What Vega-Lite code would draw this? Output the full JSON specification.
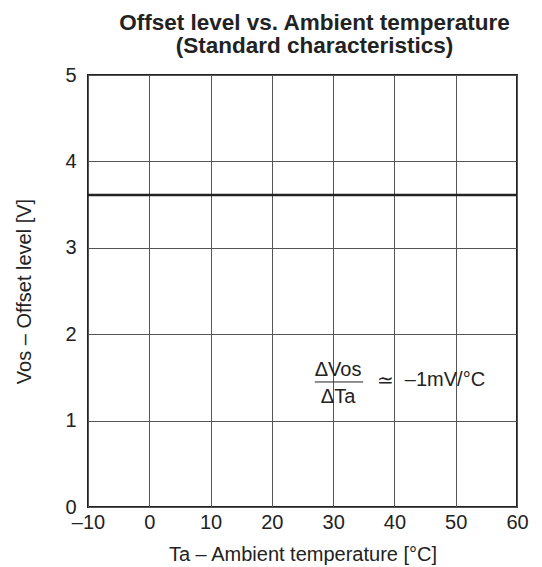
{
  "$schema": "https://vega.github.io/schema/vega-lite/v6.json",
  "width": 429,
  "height": 432,
  "autosize": "none",
  "padding": {"left": 88, "top": 75, "right": 25, "bottom": 60},
  "background": "white",
  "config": {
    "font": "Liberation Sans",
    "view": {"stroke": "#222", "strokeWidth": 2},
    "axis": {"gridColor": "#555", "gridOpacity": 1, "gridWidth": 1, "domain": false, "ticks": false, "labelColor": "#222", "titleColor": "#222", "labelFontSize": 20, "titleFontSize": 20, "titleFontWeight": "normal", "labelFont": "Liberation Sans", "titleFont": "Liberation Sans", "labelFlush": false}
  },
  "title": {
    "text": ["Offset level vs. Ambient temperature", "(Standard characteristics)"],
    "fontSize": 22.5,
    "fontWeight": "bold",
    "color": "#222",
    "font": "Liberation Sans",
    "anchor": "middle",
    "dx": 12,
    "offset": 8,
    "lineHeight": 23
  },
  "layer": [
    {
      "data": {"values": [{"Ta": -10, "Vos": 3.61}, {"Ta": 60, "Vos": 3.61}]},
      "mark": {"type": "line", "color": "#222", "strokeWidth": 2.5},
      "encoding": {
        "x": {"field": "Ta", "type": "quantitative", "scale": {"domain": [-10, 60], "nice": false, "zero": false},
          "axis": {"values": [-10, 0, 10, 20, 30, 40, 50, 60], "format": "d", "title": "Ta – Ambient temperature [°C]", "labelPadding": 5, "titlePadding": 12, "labelOverlap": false, "labelExpr": "replace(datum.label, '−', '–')"}},
        "y": {"field": "Vos", "type": "quantitative", "scale": {"domain": [0, 5], "nice": false},
          "axis": {"values": [0, 1, 2, 3, 4, 5], "format": "d", "title": "Vos – Offset level [V]", "labelPadding": 12, "titlePadding": 30, "labelOverlap": false}}
      }
    },
    {
      "data": {"values": [{"Ta": 27.0, "Vos": 1.447}, {"Ta": 34.9, "Vos": 1.447}]},
      "mark": {"type": "line", "color": "#222", "strokeWidth": 1},
      "encoding": {"x": {"field": "Ta", "type": "quantitative"}, "y": {"field": "Vos", "type": "quantitative"}}
    },
    {
      "data": {"values": [
        {"Ta": 30.8, "Vos": 1.585, "label": "ΔVos"},
        {"Ta": 30.8, "Vos": 1.273, "label": "ΔTa"},
        {"Ta": 38.5, "Vos": 1.46, "label": "≃"}
      ]},
      "mark": {"type": "text", "fontSize": 20, "color": "#222", "baseline": "middle", "align": "center"},
      "encoding": {
        "x": {"field": "Ta", "type": "quantitative"},
        "y": {"field": "Vos", "type": "quantitative"},
        "text": {"field": "label"}
      }
    },
    {
      "data": {"values": [
        {"Ta": 41.7, "Vos": 1.47, "label": "–1mV/°C"}
      ]},
      "mark": {"type": "text", "fontSize": 20, "color": "#222", "baseline": "middle", "align": "left"},
      "encoding": {
        "x": {"field": "Ta", "type": "quantitative"},
        "y": {"field": "Vos", "type": "quantitative"},
        "text": {"field": "label"}
      }
    }
  ]
}
